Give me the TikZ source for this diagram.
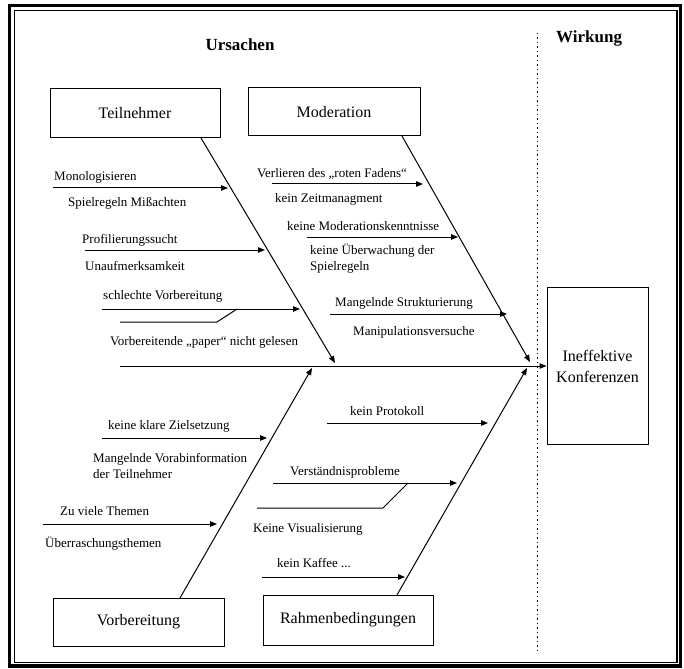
\documentclass[tikz,border=0pt]{standalone}
\usepackage{fontspec}
\setmainfont{Liberation Serif}
\usetikzlibrary{arrows.meta}
\begin{document}
\begin{tikzpicture}[x=1pt,y=-1pt,
  lbl/.style={anchor=base west, inner sep=0pt, align=left,
              font=\fontsize{13}{16}\selectfont},
  heading/.style={inner sep=0pt, font=\fontsize{17}{20}\selectfont\bfseries},
  catbox/.style={draw, line width=1pt, inner sep=0pt,
                 font=\fontsize{16}{21}\selectfont, align=center},
  bone/.style={line width=1pt, -{Triangle[length=7pt,width=5.5pt]}},
  plain/.style={line width=1pt},
  divider/.style={line width=1pt, dash pattern=on 1.5pt off 3pt}]
\useasboundingbox (0,0) rectangle (684,668);

% double frame
\draw[line width=3.5pt] (9.5,5.5) rectangle (680.5,666);
\draw[line width=1.5pt] (14.5,10.5) rectangle (677,662.5);

% headings and divider
\node[heading, anchor=base] (ursachen) at (240,51) {Ursachen};
\node[heading, anchor=base west] (wirkung) at (556,43) {Wirkung};
\coordinate (dtop) at (537,33);
\coordinate (dbot) at (537,652);
\draw[divider] (dtop) -- (dbot);

% category boxes and effect
\node[catbox, minimum width=170, minimum height=49] (teil) at (135,113.5) {Teilnehmer};
\node[catbox, minimum width=172, minimum height=48] (mod) at (334,112) {Moderation};
\node[catbox, minimum width=171, minimum height=48] (vor) at (138.5,622) {Vorbereitung};
\node[catbox, minimum width=170, minimum height=50] (rahm) at (348,620) {Rahmenbedingungen};
\node[catbox, minimum width=101, minimum height=157] (effekt) at (597.5,366) {Ineffektive\\Konferenzen};

% spine
\coordinate (spine) at (120,366);
\draw[bone] (spine) -- (effekt.west);

% main bones
\coordinate (teilS) at (201,138);  \coordinate (teilT) at (335,363);
\coordinate (modS)  at (402,136);  \coordinate (modT)  at (530,362);
\coordinate (vorS)  at (180,598);  \coordinate (vorT)  at (312,368);
\coordinate (rahmS) at (397,595);  \coordinate (rahmT) at (527,368);
\draw[bone] (teilS) -- (teilT);
\draw[bone] (modS) -- (modT);
\draw[bone] (vorS) -- (vorT);
\draw[bone] (rahmS) -- (rahmT);

% Teilnehmer causes
\coordinate (a1) at (53,188);   \coordinate (a1t) at (228,188);
\coordinate (a2) at (85,250);   \coordinate (a2t) at (265,250);
\coordinate (a3) at (102,309);  \coordinate (a3t) at (300,309);
\coordinate (a4) at (120,322);  \coordinate (a4k) at (217,322); \coordinate (a4t) at (237,309);
\draw[bone] (a1) -- (a1t);
\draw[bone] (a2) -- (a2t);
\draw[bone] (a3) -- (a3t);
\draw[plain] (a4) -- (a4k) -- (a4t);
\node[lbl] (t1) at (54,181) {Monologisieren};
\node[lbl] (t2) at (68,207) {Spielregeln Mißachten};
\node[lbl] (t3) at (82,243) {Profilierungssucht};
\node[lbl] (t4) at (85,270) {Unaufmerksamkeit};
\node[lbl] (t5) at (103,299) {schlechte Vorbereitung};
\node[lbl] (t6) at (110,345) {Vorbereitende „paper“ nicht gelesen};

% Moderation causes
\coordinate (b1) at (272,184);  \coordinate (b1t) at (423,184);
\coordinate (b2) at (307,237);  \coordinate (b2t) at (458,237);
\coordinate (b3) at (330,314);  \coordinate (b3t) at (507,314);
\draw[bone] (b1) -- (b1t);
\draw[bone] (b2) -- (b2t);
\draw[bone] (b3) -- (b3t);
\node[lbl] (m1) at (257,178) {Verlieren des „roten Fadens“};
\node[lbl] (m2) at (275,203) {kein Zeitmanagment};
\node[lbl] (m3) at (287,230) {keine Moderationskenntnisse};
% two-line labels: the base anchor sits on the last line
\node[lbl] (m4) at (310,270) {keine Überwachung der\\Spielregeln};
\node[lbl] (m5) at (335,306) {Mangelnde Strukturierung};
\node[lbl] (m6) at (353,335) {Manipulationsversuche};

% Vorbereitung causes
\coordinate (c1) at (102,438);  \coordinate (c1t) at (267,438);
\coordinate (c2) at (43,524);   \coordinate (c2t) at (217,524);
\draw[bone] (c1) -- (c1t);
\draw[bone] (c2) -- (c2t);
\node[lbl] (v1) at (108,429) {keine klare Zielsetzung};
\node[lbl] (v2) at (93,478) {Mangelnde Vorabinformation\\der Teilnehmer};
\node[lbl] (v3) at (60,515) {Zu viele Themen};
\node[lbl] (v4) at (45,547) {Überraschungsthemen};

% Rahmenbedingungen causes
\coordinate (d1) at (327,423);  \coordinate (d1t) at (488,423);
\coordinate (d2) at (273,483);  \coordinate (d2t) at (457,483);
\coordinate (d3) at (257,508);  \coordinate (d3k) at (383,508); \coordinate (d3t) at (408,483);
\coordinate (d4) at (262,577);  \coordinate (d4t) at (405,577);
\draw[bone] (d1) -- (d1t);
\draw[bone] (d2) -- (d2t);
\draw[plain] (d3) -- (d3k) -- (d3t);
\draw[bone] (d4) -- (d4t);
\node[lbl] (r1) at (350,415) {kein Protokoll};
\node[lbl] (r2) at (290,475) {Verständnisprobleme};
\node[lbl] (r3) at (253,532) {Keine Visualisierung};
\node[lbl] (r4) at (277,567) {kein Kaffee ...};
\end{tikzpicture}
\end{document}
